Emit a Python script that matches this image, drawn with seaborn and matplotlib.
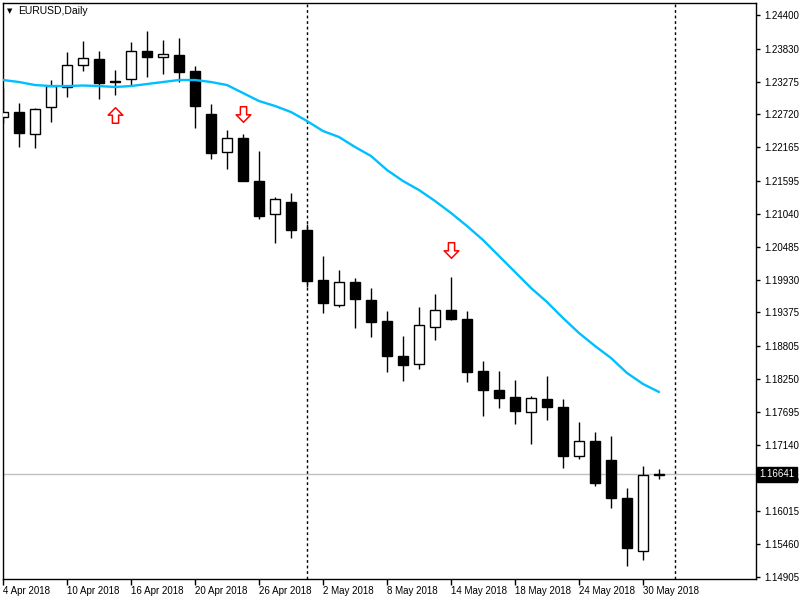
import matplotlib
matplotlib.use("Agg")
import matplotlib.pyplot as plt
import matplotlib.transforms as mtransforms
from matplotlib.path import Path
import seaborn as sns
import numpy as np

# ---------------- data (EURUSD daily) ----------------
dates = ["2018-04-04", "2018-04-05", "2018-04-06", "2018-04-09", "2018-04-10", "2018-04-11",
         "2018-04-12", "2018-04-13", "2018-04-16", "2018-04-17", "2018-04-18", "2018-04-19",
         "2018-04-20", "2018-04-23", "2018-04-24", "2018-04-25", "2018-04-26", "2018-04-27",
         "2018-04-30", "2018-05-01", "2018-05-02", "2018-05-03", "2018-05-04", "2018-05-07",
         "2018-05-08", "2018-05-09", "2018-05-10", "2018-05-11", "2018-05-14", "2018-05-15",
         "2018-05-16", "2018-05-17", "2018-05-18", "2018-05-21", "2018-05-22", "2018-05-23",
         "2018-05-24", "2018-05-25", "2018-05-28", "2018-05-29", "2018-05-30", "2018-05-31"]

opens = [1.22677, 1.22761, 1.22390, 1.22846, 1.23184, 1.23555, 1.23657, 1.23285, 1.23319, 1.23792,
         1.23690, 1.23724, 1.23454, 1.22727, 1.22085, 1.22322, 1.21595, 1.21038, 1.21241, 1.20768,
         1.19923, 1.19500, 1.19889, 1.19585, 1.19230, 1.18639, 1.18504, 1.19129, 1.19416, 1.19264,
         1.18385, 1.18064, 1.17946, 1.17693, 1.17912, 1.17777, 1.16949, 1.17203, 1.16882, 1.16240,
         1.15344, 1.16628]
highs = [1.23167, 1.22913, 1.22829, 1.23302, 1.23775, 1.23961, 1.23792, 1.23471, 1.23944, 1.24130,
         1.23978, 1.24011, 1.23538, 1.22896, 1.22457, 1.22390, 1.22102, 1.21325, 1.21393, 1.20869,
         1.20328, 1.20092, 1.19957, 1.19788, 1.19399, 1.18977, 1.19467, 1.19686, 1.19974, 1.19399,
         1.18554, 1.18385, 1.18233, 1.17963, 1.18301, 1.17912, 1.17524, 1.17355, 1.17287, 1.16409,
         1.16780, 1.16730]
lows = [1.22575, 1.22170, 1.22153, 1.22592, 1.23015, 1.23454, 1.22981, 1.23048, 1.23200, 1.23353,
        1.23403, 1.23268, 1.22491, 1.21967, 1.21798, 1.21590, 1.20953, 1.20548, 1.20632, 1.19805,
        1.19365, 1.19467, 1.19112, 1.18960, 1.18369, 1.18216, 1.18419, 1.18909, 1.19255, 1.18200,
        1.17625, 1.17760, 1.17490, 1.17152, 1.17558, 1.16747, 1.16899, 1.16443, 1.16071, 1.15091,
        1.15192, 1.16561]
closes = [1.22761, 1.22406, 1.22812, 1.23200, 1.23555, 1.23674, 1.23251, 1.23268, 1.23792, 1.23690,
          1.23741, 1.23437, 1.22863, 1.22069, 1.22322, 1.21600, 1.21004, 1.21291, 1.20768, 1.19906,
          1.19534, 1.19889, 1.19602, 1.19213, 1.18639, 1.18487, 1.19163, 1.19416, 1.19270, 1.18369,
          1.18064, 1.17929, 1.17710, 1.17929, 1.17777, 1.16949, 1.17203, 1.16493, 1.16240, 1.15395,
          1.16628, 1.16641]
ma_values = [1.23302, 1.23268, 1.23217, 1.23200, 1.23200, 1.23209, 1.23200, 1.23184, 1.23200, 1.23234,
             1.23268, 1.23302, 1.23302, 1.23268, 1.23217, 1.23082, 1.22947, 1.22863, 1.22761, 1.22609,
             1.22440, 1.22339, 1.22170, 1.22018, 1.21781, 1.21595, 1.21443, 1.21258, 1.21055, 1.20835,
             1.20599, 1.20328, 1.20058, 1.19788, 1.19551, 1.19281, 1.19027, 1.18808, 1.18605, 1.18352,
             1.18166, 1.18031]

y_ticks = [1.24400, 1.23830, 1.23275, 1.22720, 1.22165, 1.21595, 1.21040, 1.20485, 1.19930,
           1.19375, 1.18805, 1.18250, 1.17695, 1.17140, 1.16585, 1.16015, 1.15460, 1.14905]
x_tick_dates = ["2018-04-04", "2018-04-10", "2018-04-16", "2018-04-20", "2018-04-26", "2018-05-02",
                "2018-05-08", "2018-05-14", "2018-05-18", "2018-05-24", "2018-05-30"]
x_tick_labels = ["4 Apr 2018", "10 Apr 2018", "16 Apr 2018", "20 Apr 2018", "26 Apr 2018",
                 "2 May 2018", "8 May 2018", "14 May 2018", "18 May 2018", "24 May 2018", "30 May 2018"]
separator_dates = ["2018-05-01", "2018-06-01"]
bid_price = 1.16641
arrow_dates = ["2018-04-13", "2018-04-25", "2018-05-14"]
arrow_prices = [1.22719, 1.22736, 1.20438]
arrow_dirs = ["up", "down", "down"]
symbol_title = "EURUSD,Daily"

# ---------------- style ----------------
sns.set_theme(style="white", rc={"axes.edgecolor": "black", "axes.linewidth": 1.0,
                                 "xtick.color": "black", "ytick.color": "black",
                                 "text.color": "black"})
plt.rcParams["font.family"] = ["Liberation Sans", "DejaVu Sans"]

fig = plt.figure(figsize=(8, 6), dpi=100)
fig.patch.set_facecolor("white")
ax = fig.add_axes([3 / 800, 21 / 600, 753 / 800, 576 / 600])
ax.set_facecolor("white")

x = np.arange(len(dates))
o = np.array(opens); h = np.array(highs); l = np.array(lows); c = np.array(closes)
bull = c >= o

# wicks
ax.vlines(x, l, h, color="black", linewidth=1.0, zorder=2)
# bodies
ax.bar(x, np.abs(c - o), bottom=np.minimum(o, c), width=0.64,
       color=np.where(bull, "white", "black"), edgecolor="black", linewidth=1.0, zorder=3)

# moving average
sns.lineplot(x=x, y=ma_values, color="#00BFFF", linewidth=1.7, ax=ax, zorder=4)

# period separators
for d in separator_dates:
    pos = sum(1 for dd in dates if dd < d)
    ax.axvline(pos, color="black", linestyle=(0, (2, 2)), linewidth=1.0, zorder=1)

# bid line
ax.axhline(bid_price, color="#C0C0C0", linewidth=1.0, zorder=1)

# signal arrows (hollow arrow marker shapes)
up_shape = Path([(0, 0.5), (0.47, 0.02), (0.2, 0.02), (0.2, -0.5), (-0.2, -0.5),
                 (-0.2, 0.02), (-0.47, 0.02), (0, 0.5)], closed=True)
down_shape = Path([(px, -py) for px, py in up_shape.vertices], closed=True)
for d, p, kind in zip(arrow_dates, arrow_prices, arrow_dirs):
    ax.scatter([dates.index(d)], [p], marker=up_shape if kind == "up" else down_shape,
               s=125, facecolor="white", edgecolor="red", linewidth=1.1, zorder=5)

# axes limits
ax.set_xlim(0, 753 / 16)
ax.set_ylim(1.14871, 1.24603)

# x ticks
ax.set_xticks([dates.index(d) for d in x_tick_dates])
ax.set_xticklabels(x_tick_labels, ha="left")
ax.tick_params(axis="x", bottom=True, length=4, width=1, pad=1.0, labelsize=7, direction="out")

# y ticks on right
ax.yaxis.tick_right()
ax.set_yticks(y_ticks)
ax.set_yticklabels([f"{v:.5f}" for v in y_ticks])
ax.tick_params(axis="y", right=True, left=False, length=3, width=1, pad=3, labelsize=7,
               direction="out")
ax.set_xlabel("")
ax.set_ylabel("")
for s in ax.spines.values():
    s.set_visible(True)
    s.set_color("black")
    s.set_linewidth(1.0)

# bid price label
trans = mtransforms.blended_transform_factory(ax.transAxes, ax.transData)
ax.text(1.0 + 3 / 753, bid_price, f"{bid_price:.5f}", transform=trans, ha="left", va="center",
        color="white", fontsize=7, clip_on=False, zorder=10,
        bbox=dict(facecolor="black", edgecolor="black", boxstyle="square,pad=0.25"))

# title
ax.text(7 / 753, 1 - 8 / 576, "\u25bc", transform=ax.transAxes, ha="center", va="center",
        fontsize=5, family="DejaVu Sans", color="black")
ax.text(15 / 753, 1 - 8 / 576, symbol_title, transform=ax.transAxes, ha="left", va="center",
        fontsize=7.5, color="black")

fig.savefig("out.png", dpi=100, facecolor="white")
